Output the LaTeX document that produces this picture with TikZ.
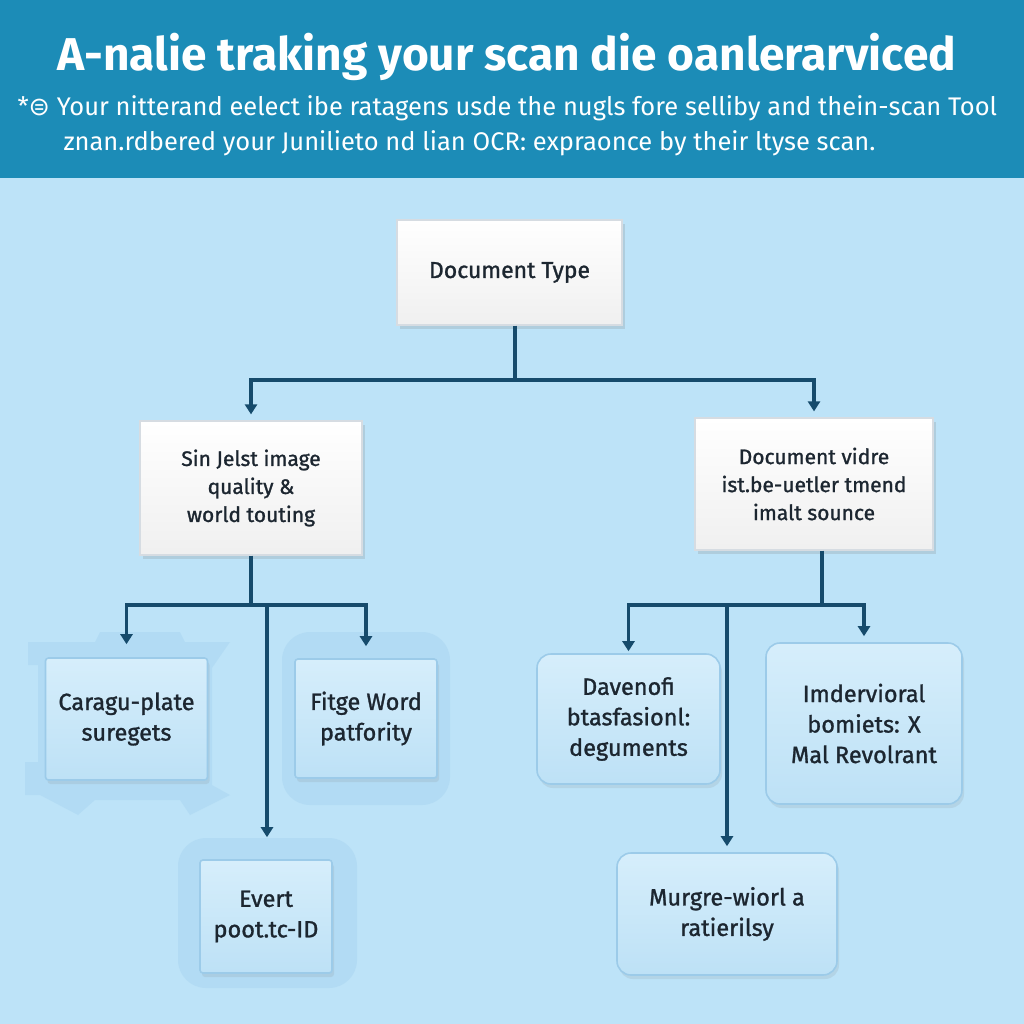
\documentclass[tikz,border=0pt]{standalone}
\usepackage{fontspec}
\setmainfont{Fira Sans}
\newfontfamily\symfont{DejaVu Sans}
\newfontfamily\boxfont[FakeBold=1.2]{Fira Sans}
\usetikzlibrary{arrows.meta,positioning,calc,shadows}
\definecolor{skybg}{HTML}{BDE3F8}
\definecolor{banner}{HTML}{1C8CB7}
\definecolor{navy}{HTML}{164B6C}
\definecolor{inkdark}{HTML}{1C2630}
\definecolor{paleedge}{HTML}{D6DCE2}
\definecolor{tileA}{HTML}{D6EEFB}
\definecolor{tileB}{HTML}{BDE1F6}
\definecolor{tileedge}{HTML}{9CCBE9}
\definecolor{halo}{HTML}{ACD7F2}

\begin{document}
\begin{tikzpicture}[x=1pt,y=-1pt,>=Stealth,
  card/.style={draw=paleedge,line width=1.2pt,top color=white,bottom color=black!6,
    text=inkdark,align=center,font=\boxfont\fontsize{21}{28}\selectfont,
    drop shadow={opacity=0.22,shadow xshift=3pt,shadow yshift=-4pt}},
  tile/.style={draw=tileedge,line width=1.6pt,rounded corners=14pt,top color=tileA,
    bottom color=tileB,text=inkdark,align=center,font=\boxfont\fontsize{23.5}{30.5}\selectfont,
    drop shadow={opacity=0.15,shadow xshift=2pt,shadow yshift=-4pt}},
  squaretile/.style={tile,rounded corners=3pt},
  link/.style={navy,line width=3.2pt},
  arr/.style={link,-{Triangle[width=12pt,length=10pt]}}]
\useasboundingbox (0,0) rectangle (1024,1024);
\fill[skybg] (0,0) rectangle (1024,1024);
\fill[banner] (0,0) rectangle (1024,178);

% header
\node[text=white,font=\bfseries\fontsize{46}{52}\selectfont] (title) at (507,57)
  {A-nalie traking your scan die oanlerarviced};
\node[text=white,anchor=west,font=\fontsize{25.5}{30}\selectfont] (lead1) at (14,108)
  {*{\symfont ⊜} Your nitterand eelect ibe ratagens usde the nugls fore selliby and thein-scan Tool};
\node[text=white,anchor=west,font=\fontsize{25.5}{30}\selectfont] (lead2) at (60,143)
  {znan.rdbered your Junilieto nd lian OCR: expraonce by their ltyse scan.};

% backdrops
\fill[halo,opacity=0.6] (28,642) -- (95,642) -- (100,632) -- (180,632) -- (185,642)
  -- (230,642) -- (212,668) -- (212,785) -- (230,795) -- (190,815) -- (180,800)
  -- (95,800) -- (78,815) -- (40,795) -- (25,795) -- (25,762) -- (38,762) -- (38,665)
  -- (28,665) -- cycle;
\fill[halo,opacity=0.6,rounded corners=28pt] (282,632) rectangle (450,805);
\fill[halo,opacity=0.6,rounded corners=28pt] (178,838) rectangle (357,988);

% boxes
\node[card,minimum width=225,minimum height=105,font=\boxfont\fontsize{23}{28}\selectfont]
  (dtype) at (509.5,272.5) {Document Type};
\node[card,minimum width=222,minimum height=134] (qual) at (251,488)
  {Sin Jelst image\\quality \&\\world touting};
\node[card,minimum width=238,minimum height=132] (docsrc) at (814,484)
  {Document vidre\\ist.be-uetler tmend\\imalt sounce};

\node[squaretile,minimum width=162,minimum height=122] (cara) at (126.5,719) {Caragu-plate\\suregets};
\node[squaretile,minimum width=142,minimum height=119] (fitge) at (366,718.5) {Fitge Word\\patfority};
\node[squaretile,minimum width=132,minimum height=113] (evert) at (266,916.5) {Evert\\poot.tc-ID};
\node[tile,minimum width=183,minimum height=130] (daven) at (628.5,719)
  {Davenofi\\btasfasionl:\\deguments};
\node[tile,minimum width=196,minimum height=161] (imder) at (864,723.5)
  {Imdervioral\\bomiets: X\\Mal Revolrant};
\node[tile,minimum width=220,minimum height=122] (murg) at (727,914) {Murgre-wiorl a\\ratierilsy};

% connectors
\coordinate (split1) at (515,380);
\coordinate (split2) at (251,605);
\coordinate (split3) at (822,605);
\draw[link] (split1 |- dtype.south) -- (split1);
\draw[arr,shorten >=6pt] (split1) -| (qual.north);
\draw[arr,shorten >=6pt] (split1) -| (docsrc.north);

\draw[link] (qual.south) -- (split2);
\draw[arr,shorten >=13pt] (split2) -| (cara.north);
\draw[arr,shorten >=12pt] (split2) -| (fitge.north);
\draw[arr,shorten >=22pt] (split2) -| ([xshift=1pt]evert.north);

\draw[link] (split3 |- docsrc.south) -- (split3);
\draw[arr,shorten >=2pt] (split3) -| (daven.north);
\draw[arr,shorten >=6pt] (split3) -| (imder.north);
\draw[arr,shorten >=6pt] (split3) -| (murg.north);
\end{tikzpicture}
\end{document}
